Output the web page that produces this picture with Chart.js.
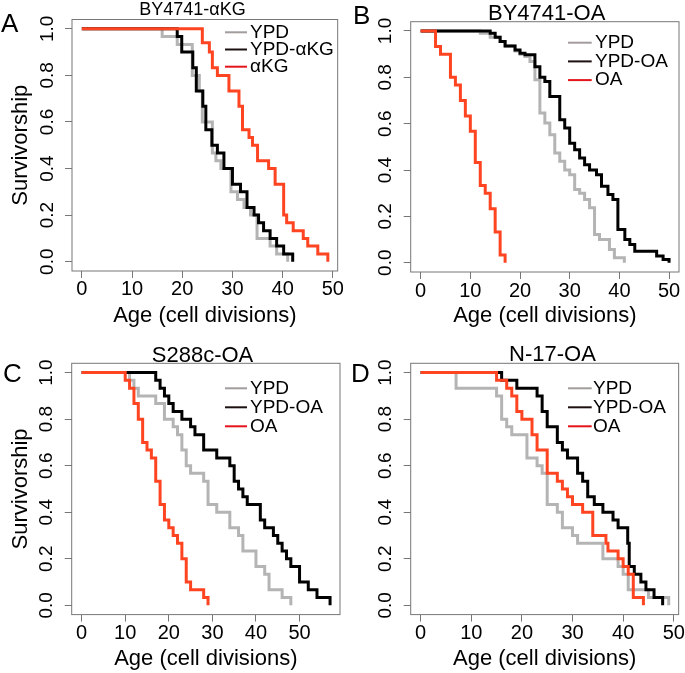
<!DOCTYPE html>
<html>
<head>
<meta charset="utf-8">
<script src="https://cdn.jsdelivr.net/npm/chart.js@4.4.0/dist/chart.umd.min.js"></script>
<style>
  body { margin: 0; background: #fff; }
  #fig { position: relative; width: 685px; height: 673px; font-family: "Liberation Sans", Arial, sans-serif; }
  #fig canvas { position: absolute; }
  .tag { position: absolute; font-size: 26px; line-height: 1; color: #000; }
</style>
</head>
<body>
<div id="fig">
  <canvas id="cA" width="343" height="336" style="left:0;top:0"></canvas>
  <canvas id="cB" width="342" height="336" style="left:343px;top:0"></canvas>
  <canvas id="cC" width="343" height="337" style="left:0;top:336px"></canvas>
  <canvas id="cD" width="342" height="337" style="left:343px;top:336px"></canvas>
  <div class="tag" style="left:1px;top:10px">A</div>
  <div class="tag" style="left:353px;top:2px">B</div>
  <div class="tag" style="left:3px;top:360px">C</div>
  <div class="tag" style="left:351px;top:360px">D</div>
</div>
<script>
// axis ticks
const ageTicks = [0, 10, 20, 30, 40, 50];
const survTicks = [0, 0.2, 0.4, 0.6, 0.8, 1.0];

// A - BY4741-aKG
const ageA_ypd  = [0, 16, 19, 22, 23.4, 24, 26, 26.7, 27.7, 29.7, 31, 32.3, 33.6, 34.9, 37.5, 38.8, 41];
const survA_ypd = [1, .967, .933, .8, .733, .6, .467, .433, .4, .3, .267, .233, .2, .1, .067, .033, 0];
const ageA_ypdakg  = [0, 19, 19.9, 22.1, 22.8, 24.1, 24.7, 25.9, 27, 28.3, 30, 31.6, 32.9, 34.3, 35.2, 36.2, 37.5, 38.8, 40.2, 42];
const survA_ypdakg = [1, .967, .9, .833, .733, .667, .567, .5, .467, .4, .333, .3, .233, .2, .167, .133, .1, .067, .033, 0];
const ageA_akg  = [0, 24, 25.4, 26, 27, 29.3, 31.3, 32, 33.3, 34, 35, 37.2, 38.5, 40.2, 40.8, 42.1, 44.1, 45, 47, 49];
const survA_akg = [1, .94, .9, .833, .8, .733, .667, .567, .533, .5, .433, .4, .333, .2, .167, .133, .1, .067, .033, 0];

// B - BY4741-OA
const ageB_ypd  = [0, 12, 14, 16, 17, 19, 20, 21, 22, 23, 24, 25, 26, 27, 28, 29, 30, 31, 32, 33, 34, 35, 36, 38, 39, 41];
const survB_ypd = [1, .99, .973, .955, .935, .914, .9, .89, .868, .79, .646, .603, .552, .473, .438, .4, .38, .316, .3, .273, .237, .122, .1, .057, .021, 0];
const ageB_ypdoa  = [0, 14, 15, 16, 17, 19, 20, 21, 23, 24, 25, 26, 28, 29, 30, 31, 32, 33, 34, 35.4, 36.4, 37.7, 38.7, 39.7, 41.1, 42.1, 43.1, 47.5, 48.8, 50];
const survB_ypdoa = [1, .99, .973, .955, .935, .918, .904, .897, .846, .8, .782, .717, .617, .581, .516, .488, .452, .423, .4, .38, .33, .294, .273, .143, .1, .079, .05, .029, .014, 0];
const ageB_oa  = [0, 3, 4, 6, 7, 8, 9, 10, 11, 12, 13, 14, 15, 16, 17];
const survB_oa = [1, .933, .9, .8, .767, .7, .633, .567, .433, .333, .3, .233, .133, .033, 0];

// C - S288c-OA
const ageC_ypd  = [0, 11, 12, 13, 17, 19, 21, 22, 23, 24, 25, 28, 29, 31, 34, 36, 37, 40, 42, 43, 46, 48];
const survC_ypd = [1, .967, .933, .9, .867, .8, .767, .733, .667, .6, .567, .533, .433, .4, .333, .3, .233, .167, .133, .067, .033, 0];
const ageC_ypdoa  = [0, 17, 18, 19, 20, 21, 23, 25, 26, 28, 31, 34, 35, 36, 37, 38, 41, 42, 44, 45, 46, 47, 48, 50, 52, 54, 57];
const survC_ypdoa = [1, .967, .933, .9, .867, .833, .8, .767, .733, .667, .633, .6, .533, .5, .467, .433, .367, .333, .3, .267, .233, .2, .167, .1, .067, .033, 0];
const ageC_oa  = [0, 10, 11, 12, 13, 14, 15, 16, 17, 18, 19, 20, 21, 22, 23, 24, 25, 28, 29];
const survC_oa = [1, .967, .933, .867, .8, .7, .667, .633, .533, .433, .367, .333, .3, .267, .2, .1, .067, .033, 0];

// D - N-17-OA
const ageD_ypd  = [0, 7, 15, 16, 17, 18, 21, 23, 24, 25, 27, 28, 30, 31, 36, 39, 40, 41, 45, 49];
const survD_ypd = [1, .933, .9, .8, .767, .733, .633, .6, .567, .433, .4, .333, .3, .267, .2, .167, .133, .067, .033, 0];
const ageD_ypdoa  = [0, 16, 19, 23, 24, 25, 27, 28, 29, 31, 32, 33, 34.3, 36, 38, 39, 40.9, 41.2, 42.2, 43.5, 44.5, 46.1, 47.8];
const survD_ypdoa = [1, .967, .933, .9, .833, .767, .7, .667, .633, .567, .533, .467, .433, .4, .367, .333, .267, .167, .133, .1, .067, .033, 0];
const ageD_oa  = [0, 15, 17, 18, 19, 20, 22, 23, 25, 27, 28, 29, 30, 32, 34, 36.6, 37, 39, 40, 41, 42, 44];
const survD_oa = [1, .967, .933, .9, .833, .8, .733, .667, .567, .533, .5, .467, .433, .4, .3, .267, .233, .2, .167, .133, .033, 0];

const FONT = '"Liberation Sans", Arial, sans-serif';
const GREY = '#b4b4b4', BLACK = '#000000', RED = '#ff4422';
const LEG_COLORS = ['#a39c9c', '#1c1010', '#e4141c'];
const AXIS = '#777777';

Chart.defaults.font.family = FONT;
Chart.defaults.color = '#000';

// box, rotated y labels, panel title and legend (R style)
const panelDecor = {
    id: 'panelDecor',
    afterDraw(chart, args, o) {
        const { ctx, chartArea: a, scales: { y } } = chart;
        ctx.save();
        ctx.strokeStyle = AXIS;
        ctx.lineWidth = 1;
        ctx.strokeRect(a.left, a.top, a.right - a.left, a.bottom - a.top);

        ctx.fillStyle = '#000';
        ctx.font = '19px ' + FONT;
        ctx.textAlign = 'center';
        ctx.textBaseline = 'middle';
        survTicks.forEach(v => {
            ctx.save();
            ctx.translate(a.left - 24.5, y.getPixelForValue(v));
            ctx.rotate(-Math.PI / 2);
            ctx.fillText(v.toFixed(1), 0, 0);
            ctx.restore();
        });

        ctx.font = o.titleSize + 'px ' + FONT;
        ctx.textBaseline = 'alphabetic';
        ctx.fillText(o.title, o.titleX, o.titleY);

        const lg = o.legend;
        ctx.font = '19px ' + FONT;
        ctx.textAlign = 'left';
        ctx.textBaseline = 'middle';
        ctx.lineWidth = 2;
        chart.data.datasets.forEach((ds, i) => {
            const yy = a.top + lg.y0 + i * lg.dy;
            ctx.strokeStyle = LEG_COLORS[i];
            ctx.beginPath();
            ctx.moveTo(a.left + lg.x1, yy);
            ctx.lineTo(a.left + lg.x2, yy);
            ctx.stroke();
            ctx.fillText(ds.label, a.left + lg.tx, yy);
        });
        ctx.restore();
    }
};

function series(label, ages, surv, color, order) {
    return {
        label: label,
        data: ages.map((a, i) => ({ x: a, y: surv[i] })),
        borderColor: color,
        borderWidth: 3,
        stepped: true,
        pointRadius: 0,
        fill: false,
        order: order,
        borderJoinStyle: 'miter'
    };
}

const panels = [
    { id: 'cA', title: 'BY4741-αKG', titleSize: 18, titleX: 192.5, titleY: 14.5,
      pad: { top: 19.5, right: 1, left: 0, bottom: 0 }, yw: 72, xh: 65, tp: -1, xtp: 7.3, ytitle: true,
      legend: { x1: 153, x2: 175, tx: 178, y0: 12.8, dy: 17.2 },
      sets: [series('YPD', ageA_ypd, survA_ypd, GREY, 3),
             series('YPD-αKG', ageA_ypdakg, survA_ypdakg, BLACK, 2),
             series('αKG', ageA_akg, survA_akg, RED, 1)] },
    { id: 'cB', title: 'BY4741-OA', titleSize: 22, titleX: 203.7, titleY: 20,
      pad: { top: 21.7, right: 6, left: 0, bottom: 0 }, yw: 67.7, xh: 64, tp: 0, xtp: 6.6, ytitle: false,
      legend: { x1: 157.3, x2: 181, tx: 184.3, y0: 21, dy: 18.7 },
      sets: [series('YPD', ageB_ypd, survB_ypd, GREY, 3),
             series('YPD-OA', ageB_ypdoa, survB_ypdoa, BLACK, 2),
             series('OA', ageB_oa, survB_oa, RED, 1)] },
    { id: 'cC', title: 'S288c-OA', titleSize: 22, titleX: 202.5, titleY: 25.7,
      pad: { top: 27.3, right: 3, left: 0, bottom: 0 }, yw: 71.7, xh: 58.4, tp: 0, xtp: 1, ytitle: true,
      legend: { x1: 153.3, x2: 175.3, tx: 178.3, y0: 25, dy: 19 },
      sets: [series('YPD', ageC_ypd, survC_ypd, GREY, 3),
             series('YPD-OA', ageC_ypdoa, survC_ypdoa, BLACK, 2),
             series('OA', ageC_oa, survC_oa, RED, 1)] },
    { id: 'cD', title: 'N-17-OA', titleSize: 22, titleX: 209.5, titleY: 24.7,
      pad: { top: 27.3, right: 5, left: 0, bottom: 0 }, yw: 67.7, xh: 58.4, tp: 0, xtp: 1, ytitle: false,
      legend: { x1: 157.3, x2: 181, tx: 182.3, y0: 25, dy: 19 },
      sets: [series('YPD', ageD_ypd, survD_ypd, GREY, 3),
             series('YPD-OA', ageD_ypdoa, survD_ypdoa, BLACK, 2),
             series('OA', ageD_oa, survD_oa, RED, 1)] }
];

panels.forEach(p => {
    // R pads the data range by 4% on each side
    const xMax = Math.max(...p.sets.flatMap(s => s.data.map(d => d.x)));
    new Chart(document.getElementById(p.id), {
        type: 'line',
        data: { datasets: p.sets },
        plugins: [panelDecor],
        options: {
            responsive: false,
            animation: false,
            layout: { padding: p.pad },
            plugins: {
                legend: { display: false },
                tooltip: { enabled: false },
                panelDecor: { title: p.title, titleSize: p.titleSize, titleX: p.titleX, titleY: p.titleY, legend: p.legend }
            },
            scales: {
                x: {
                    type: 'linear',
                    min: -0.04 * xMax,
                    max: 1.04 * xMax,
                    afterBuildTicks: s => { s.ticks = ageTicks.map(v => ({ value: v })); },
                    afterFit: s => { s.height = p.xh; },
                    grid: { drawOnChartArea: false, drawTicks: true, tickLength: 7, color: AXIS },
                    border: { display: false },
                    ticks: { font: { size: 20 }, padding: p.tp, maxRotation: 0, autoSkip: false },
                    title: { display: true, text: 'Age (cell divisions)', font: { size: 22 }, padding: { top: 0, bottom: p.xtp } }
                },
                y: {
                    type: 'linear',
                    min: -0.04,
                    max: 1.04,
                    afterBuildTicks: s => { s.ticks = survTicks.map(v => ({ value: v })); },
                    afterFit: s => { s.width = p.yw; },
                    grid: { drawOnChartArea: false, drawTicks: true, tickLength: 7, color: AXIS },
                    border: { display: false },
                    ticks: { display: false },
                    title: { display: p.ytitle, text: 'Survivorship', font: { size: 22 }, padding: { top: 8, bottom: 0 } }
                }
            }
        }
    });
});
</script>
</body>
</html>
